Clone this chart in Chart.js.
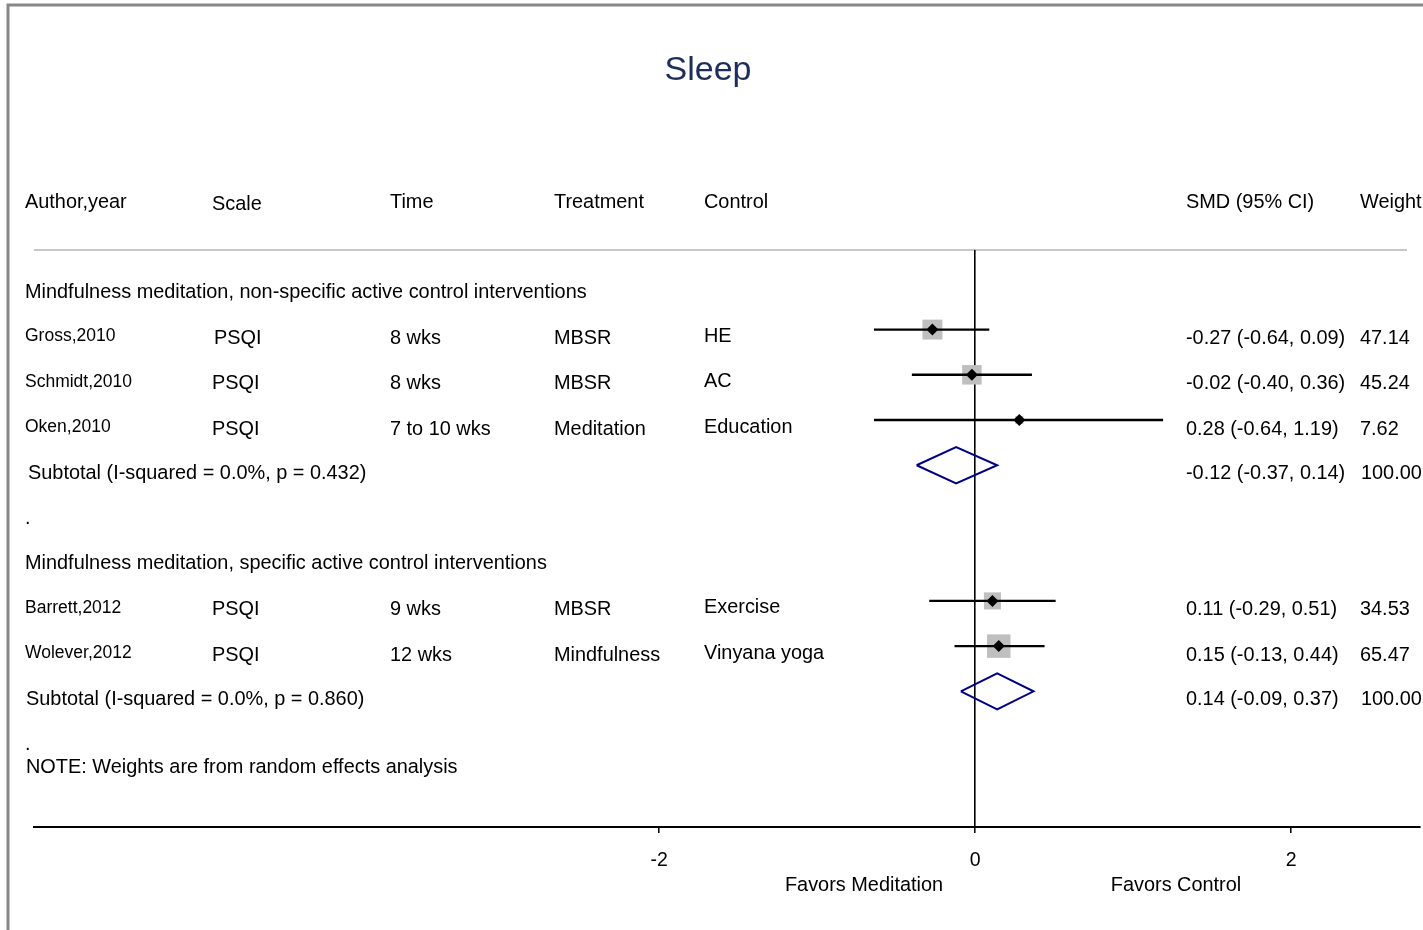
<!DOCTYPE html>
<html>
<head>
<meta charset="utf-8">
<script src="https://cdn.jsdelivr.net/npm/chart.js@4/dist/chart.umd.min.js"></script>
<style>
  body { margin: 0; background: #fff; }
  canvas { display: block; }
</style>
</head>
<body>
<canvas id="forest" width="1423" height="930"></canvas>
<script>
// Data.
const headers = ['Author,year', 'Scale', 'Time', 'Treatment', 'Control', 'SMD (95% CI)', 'Weight'];
const authors = ['Gross,2010', 'Schmidt,2010', 'Oken,2010', 'Barrett,2012', 'Wolever,2012'];
const scales = ['PSQI', 'PSQI', 'PSQI', 'PSQI', 'PSQI'];
const times = ['8 wks', '8 wks', '7 to 10 wks', '9 wks', '12 wks'];
const treatments = ['MBSR', 'MBSR', 'Meditation', 'MBSR', 'Mindfulness'];
const controls = ['HE', 'AC', 'Education', 'Exercise', 'Vinyana yoga'];
const smd = [-0.27, -0.02, 0.28, 0.11, 0.15];
const ciLow = [-0.64, -0.40, -0.64, -0.29, -0.13];
const ciHigh = [0.09, 0.36, 1.19, 0.51, 0.44];
const weights = [47.14, 45.24, 7.62, 34.53, 65.47];
const studyRows = [0, 1, 2, 6, 7];

const groupLabels = ['Mindfulness meditation, non-specific active control interventions',
                     'Mindfulness meditation, specific active control interventions'];
const groupRows = [-1, 5];
const subtotalLabels = ['Subtotal (I-squared = 0.0%, p = 0.432)', 'Subtotal (I-squared = 0.0%, p = 0.860)'];
const subSmd = [-0.12, 0.14];
const subLow = [-0.37, -0.09];
const subHigh = [0.14, 0.37];
const subWeights = [100, 100];
const subRows = [3, 8];
const note = 'NOTE: Weights are from random effects analysis';
const xTicks = [-2, 0, 2];

// Layout helpers.
const FONT = '"Liberation Sans", Arial, sans-serif';
const colX = [25, 212, 390, 554, 704, 1186, 1360];
const textShift = 8;
const diamondHalf = 0.4;

function fmt(v) { return v.toFixed(2); }
function ciText(e, lo, hi) { return fmt(e) + ' (' + fmt(lo) + ', ' + fmt(hi) + ')'; }

// Build datasets.
const datasets = [];
smd.forEach((v, i) => {
    datasets.push({
        type: 'line',
        data: [{ x: ciLow[i], y: studyRows[i] }, { x: ciHigh[i], y: studyRows[i] }],
        borderColor: '#000',
        borderWidth: 2.4,
        pointRadius: 0,
        order: 1
    });
});
datasets.push({
    type: 'scatter',
    data: smd.map((v, i) => ({ x: v, y: studyRows[i] })),
    pointStyle: 'rect',
    pointRadius: weights.map(w => 2.9 * Math.sqrt(w) / Math.SQRT2),
    backgroundColor: '#bfbfbf',
    borderWidth: 0,
    order: 2
});
datasets.push({
    type: 'scatter',
    data: smd.map((v, i) => ({ x: v, y: studyRows[i] })),
    pointStyle: 'rectRot',
    pointRadius: 6,
    backgroundColor: '#000',
    borderWidth: 0,
    order: 0
});
subSmd.forEach((v, i) => {
    const r = subRows[i];
    datasets.push({
        type: 'line',
        data: [
            { x: subLow[i], y: r }, { x: v, y: r - diamondHalf },
            { x: subHigh[i], y: r }, { x: v, y: r + diamondHalf },
            { x: subLow[i], y: r }
        ],
        borderColor: '#000080',
        borderWidth: 2,
        pointRadius: 0,
        order: 1
    });
});

// Text columns and frame.
const tablePlugin = {
    id: 'table',
    beforeDraw(chart) {
        const ctx = chart.ctx;
        const area = chart.chartArea;
        ctx.save();
        ctx.fillStyle = '#fff';
        ctx.fillRect(0, 0, chart.width, chart.height);
        ctx.strokeStyle = '#888';
        ctx.lineWidth = 3;
        ctx.beginPath();
        ctx.moveTo(8, chart.height);
        ctx.lineTo(8, 5);
        ctx.lineTo(chart.width, 5);
        ctx.stroke();
        ctx.strokeStyle = '#c8c8c8';
        ctx.lineWidth = 2;
        ctx.beginPath();
        ctx.moveTo(34, area.top);
        ctx.lineTo(1407, area.top);
        ctx.stroke();
        ctx.restore();
    },
    afterDraw(chart) {
        const ctx = chart.ctx;
        const y = chart.scales.y;
        const rowY = r => y.getPixelForValue(r) + textShift;
        ctx.save();
        ctx.textBaseline = 'middle';
        ctx.fillStyle = '#1e2d5a';
        ctx.font = '34px ' + FONT;
        ctx.textAlign = 'center';
        ctx.fillText('Sleep', 708, 71);
        ctx.textAlign = 'left';
        ctx.fillStyle = '#000';

        const big = '19.9px ' + FONT;
        const small = '17.5px ' + FONT;
        ctx.font = big;
        headers.forEach((h, i) => ctx.fillText(h, colX[i], rowY(-3) + 1 + (i === 1 ? 2 : 0)));
        groupLabels.forEach((g, i) => ctx.fillText(g, colX[0], rowY(groupRows[i])));

        authors.forEach((a, i) => {
            const ry = rowY(studyRows[i]);
            ctx.font = small;
            ctx.fillText(a, colX[0], ry - 1);
            ctx.font = big;
            ctx.fillText(scales[i], colX[1] + (i === 0 ? 2 : 0), ry + 1);
            ctx.fillText(times[i], colX[2], ry + 1);
            ctx.fillText(treatments[i], colX[3], ry + 1);
            ctx.fillText(controls[i], colX[4], ry - 1);
            ctx.fillText(ciText(smd[i], ciLow[i], ciHigh[i]), colX[5], ry + 1);
            ctx.fillText(fmt(weights[i]), colX[6], ry + 1);
        });

        subtotalLabels.forEach((s, i) => {
            const ry = rowY(subRows[i]);
            ctx.fillText(s, i === 0 ? 28 : 26, ry);
            ctx.fillText(ciText(subSmd[i], subLow[i], subHigh[i]), colX[5], ry);
            ctx.fillText(fmt(subWeights[i]), colX[6] + 1, ry);
            ctx.fillText('.', 25, rowY(subRows[i] + 1));
        });
        ctx.fillText(note, 26, rowY(9.5));

        ctx.textAlign = 'center';
        ctx.fillText('Favors Meditation', 864, 886);
        ctx.fillText('Favors Control', 1176, 886);
        ctx.restore();
    }
};

const myChart = new Chart(document.getElementById('forest').getContext('2d'), {
    type: 'scatter',
    data: { datasets: datasets },
    options: {
        responsive: false,
        animation: false,
        events: [],
        layout: { autoPadding: false, padding: { left: 34, right: 3, top: 250, bottom: 0 } },
        plugins: { legend: { display: false }, tooltip: { enabled: false }, title: { display: false } },
        scales: {
            x: {
                type: 'linear',
                min: -5.956,
                max: 2.816,
                afterBuildTicks: (scale) => { scale.ticks = xTicks.map(v => ({ value: v })); },
                afterFit: (scale) => {
                    scale.height = 103;
                    scale.paddingLeft = 0;
                    scale.paddingRight = 0;
                },
                border: { display: true, color: '#000', width: 2 },
                grid: {
                    drawOnChartArea: true,
                    color: (c) => (c.tick && c.tick.value === 0) ? '#000' : 'rgba(0,0,0,0)',
                    lineWidth: 1.6,
                    drawTicks: true,
                    tickLength: 6,
                    tickColor: '#000',
                    tickWidth: 1.5
                },
                ticks: {
                    color: '#000',
                    font: { family: FONT, size: 19.5 },
                    padding: 16,
                    maxRotation: 0,
                    autoSkip: false
                }
            },
            y: {
                type: 'linear',
                display: false,
                reverse: true,
                min: -1.76,
                max: 11.0
            }
        }
    },
    plugins: [tablePlugin]
});
</script>
</body>
</html>
